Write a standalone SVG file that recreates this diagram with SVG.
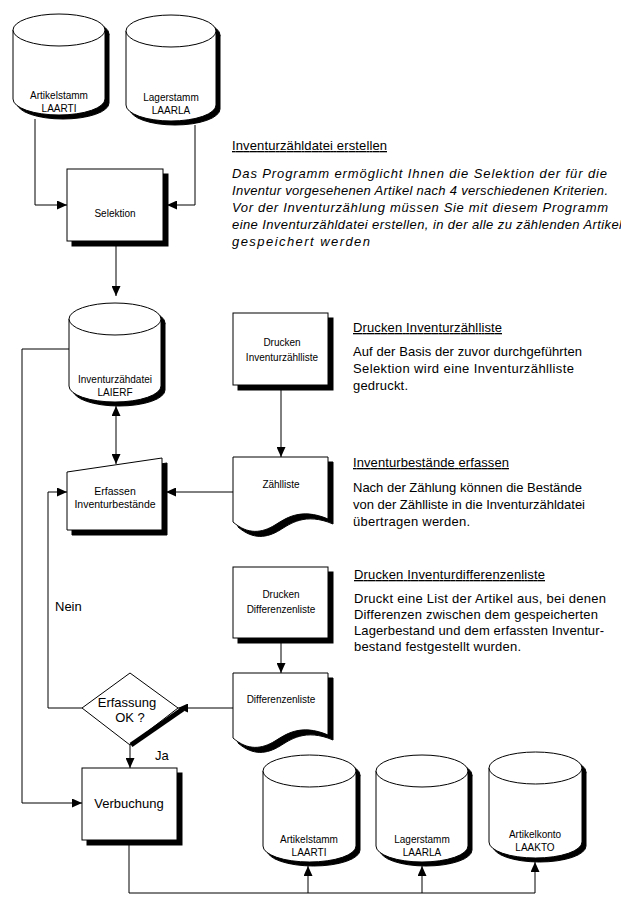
<svg xmlns="http://www.w3.org/2000/svg" width="621" height="904" viewBox="0 0 621 904">
<defs>
<style>
.b{fill:#fff;stroke:#000;stroke-width:1}
.s{fill:#000;stroke:#000;stroke-width:1}
.c{fill:none;stroke:#000;stroke-width:1}
.t{font-family:"Liberation Sans",Arial,sans-serif;font-size:10px;fill:#000;text-anchor:middle}
.m{font-family:"Liberation Sans",Arial,sans-serif;font-size:13px;fill:#000;text-anchor:middle}
.p{font-family:"Liberation Sans",Arial,sans-serif;font-size:13px;fill:#000}
.i{font-style:italic}
.u{text-decoration:underline}
</style>
<marker id="a" viewBox="0 0 10 9" refX="10" refY="4.5" markerWidth="10" markerHeight="9" markerUnits="userSpaceOnUse" orient="auto-start-reverse">
<path d="M0,0 L10,4.5 L0,9 Z" fill="#000"/>
</marker>
</defs>

<g id="artikelstamm-top">
<g transform="translate(4,4)" class="s"><path d="M13,30 V99 A46,16 0 0 0 105,99 V30 Z"/><ellipse cx="59" cy="30" rx="46" ry="16"/></g>
<path class="b" d="M13,30 V99 A46,16 0 0 0 105,99 V30"/><ellipse class="b" cx="59" cy="30" rx="46" ry="16"/>
<text class="t" x="59" y="99">Artikelstamm</text><text class="t" x="59" y="112">LAARTI</text>
</g>

<g id="lagerstamm-top">
<g transform="translate(4,4)" class="s"><path d="M126,31 V105 A45,16 0 0 0 216,105 V31 Z"/><ellipse cx="171" cy="31" rx="45" ry="16"/></g>
<path class="b" d="M126,31 V105 A45,16 0 0 0 216,105 V31"/><ellipse class="b" cx="171" cy="31" rx="45" ry="16"/>
<text class="t" x="171" y="101">Lagerstamm</text><text class="t" x="171" y="114">LAARLA</text>
</g>

<g id="selektion">
<rect class="s" x="72" y="174" width="96" height="72"/>
<rect class="b" x="67" y="169" width="96" height="72"/>
<text class="t" x="115" y="217">Selektion</text>
</g>

<g id="inventurzaehldatei">
<g transform="translate(4,4)" class="s"><path d="M69,319 V386 A46,16 0 0 0 161,386 V319 Z"/><ellipse cx="115" cy="319" rx="46" ry="16"/></g>
<path class="b" d="M69,319 V386 A46,16 0 0 0 161,386 V319"/><ellipse class="b" cx="115" cy="319" rx="46" ry="16"/>
<text class="t" x="115" y="383">Inventurzähdatei</text><text class="t" x="115" y="396">LAIERF</text>
</g>

<g id="drucken-inventurzaehlliste">
<rect class="s" x="238" y="318" width="95" height="72"/>
<rect class="b" x="233" y="313" width="95" height="72"/>
<text class="t" x="282" y="346">Drucken</text><text class="t" x="282" y="361">Inventurzählliste</text>
</g>

<g id="erfassen">
<path class="s" d="M72,477 L167,463 V535 H72 Z"/>
<path class="b" d="M67,472 L162,458 V530 H67 Z"/>
<text class="t" x="115" y="495" style="font-size:10.5px">Erfassen</text><text class="t" x="115" y="508" style="font-size:10.5px">Inventurbestände</text>
</g>

<g id="zaehlliste">
<path class="s" transform="translate(5,5)" d="M233,457 H328 V519 C300,507 285,519 275,525 C262,533 248,535 233,522 Z"/>
<path class="b" d="M233,457 H328 V519 C300,507 285,519 275,525 C262,533 248,535 233,522 Z"/>
<text class="t" x="281" y="488">Zählliste</text>
</g>

<g id="drucken-differenzenliste">
<rect class="s" x="238" y="572" width="95" height="71"/>
<rect class="b" x="233" y="567" width="95" height="71"/>
<text class="t" x="281" y="598">Drucken</text><text class="t" x="281" y="613">Differenzenliste</text>
</g>

<g id="differenzenliste">
<path class="s" transform="translate(5,5)" d="M233,673 H328 V735 C300,723 285,735 275,741 C262,749 248,751 233,738 Z"/>
<path class="b" d="M233,673 H328 V735 C300,723 285,735 275,741 C262,749 248,751 233,738 Z"/>
<text class="t" x="281" y="703">Differenzenliste</text>
</g>

<g id="erfassung-ok">
<path class="b" d="M82,708 L130,673 L178,708 L130,745 Z"/>
<text class="m" x="127" y="707">Erfassung</text><text class="m" x="130" y="722">OK ?</text>
</g>

<g id="verbuchung">
<rect class="s" x="87" y="773" width="95" height="72"/>
<rect class="b" x="82" y="768" width="95" height="72"/>
<text class="m" x="129" y="808">Verbuchung</text>
</g>

<g id="artikelstamm-bottom">
<g transform="translate(4,4)" class="s"><path d="M263,771 V846 A46.5,16 0 0 0 356,846 V771 Z"/><ellipse cx="309.5" cy="771" rx="46.5" ry="16"/></g>
<path class="b" d="M263,771 V846 A46.5,16 0 0 0 356,846 V771"/><ellipse class="b" cx="309.5" cy="771" rx="46.5" ry="16"/>
<text class="t" x="309" y="843">Artikelstamm</text><text class="t" x="309" y="856">LAARTI</text>
</g>

<g id="lagerstamm-bottom">
<g transform="translate(4,4)" class="s"><path d="M376,771 V846 A46,16 0 0 0 468,846 V771 Z"/><ellipse cx="422" cy="771" rx="46" ry="16"/></g>
<path class="b" d="M376,771 V846 A46,16 0 0 0 468,846 V771"/><ellipse class="b" cx="422" cy="771" rx="46" ry="16"/>
<text class="t" x="422" y="843">Lagerstamm</text><text class="t" x="422" y="856">LAARLA</text>
</g>

<g id="artikelkonto-bottom">
<g transform="translate(4,4)" class="s"><path d="M489,768 V842 A46.5,16 0 0 0 582,842 V768 Z"/><ellipse cx="535.5" cy="768" rx="46.5" ry="16"/></g>
<path class="b" d="M489,768 V842 A46.5,16 0 0 0 582,842 V768"/><ellipse class="b" cx="535.5" cy="768" rx="46.5" ry="16"/>
<text class="t" x="535" y="838">Artikelkonto</text><text class="t" x="535" y="851">LAAKTO</text>
</g>

<g id="connectors">
<path class="c" d="M35,119 V205 H67" marker-end="url(#a)"/>
<path class="c" d="M195,125 V205 H167" marker-end="url(#a)"/>
<path class="c" d="M116,246 V296" marker-end="url(#a)"/>
<path class="c" d="M116,406 V464" marker-start="url(#a)" marker-end="url(#a)"/>
<path class="c" d="M281,390 V457" marker-end="url(#a)"/>
<path class="c" d="M233,492 H166" marker-end="url(#a)"/>
<path class="c" d="M82,708 H48 V492 H67" marker-end="url(#a)"/>
<path class="c" d="M69,349 H22 V803 H82" marker-end="url(#a)"/>
<path class="c" d="M281,643 V673" marker-end="url(#a)"/>
<path class="c" d="M233,708 H178" marker-end="url(#a)"/>
<path d="M183,709 L131,745" stroke="#000" stroke-width="5" fill="none"/>
<path class="c" d="M130,745 V768" marker-end="url(#a)"/>
<path class="c" d="M129,845 V893 H535 V862" marker-end="url(#a)"/>
<path class="c" d="M308,893 V866" marker-end="url(#a)"/>
<path class="c" d="M422,893 V866" marker-end="url(#a)"/>
</g>

<g id="labels">
<text class="p" x="55" y="611">Nein</text>
<text class="p" x="155" y="760">Ja</text>
</g>

<g id="text-inventurzaehldatei">
<text class="p u" x="232" y="150" textLength="155" lengthAdjust="spacing">Inventurzähldatei erstellen</text>
<text class="p i" x="232" y="178" textLength="375" lengthAdjust="spacing">Das Programm ermöglicht Ihnen die Selektion der für die</text>
<text class="p i" x="232" y="195" textLength="376" lengthAdjust="spacing">Inventur vorgesehenen Artikel nach 4 verschiedenen Kriterien.</text>
<text class="p i" x="232" y="212" textLength="376" lengthAdjust="spacing">Vor der Inventurzählung müssen Sie mit diesem Programm</text>
<text class="p i" x="232" y="229" textLength="390" lengthAdjust="spacing">eine Inventurzähldatei erstellen, in der alle zu zählenden Artikel</text>
<text class="p i" x="232" y="246" textLength="138" lengthAdjust="spacing">gespeichert werden</text>
</g>

<g id="text-drucken-inventurzaehlliste">
<text class="p u" x="353" y="332" textLength="149" lengthAdjust="spacing">Drucken Inventurzählliste</text>
<text class="p" x="353" y="356" textLength="229" lengthAdjust="spacing">Auf der Basis der zuvor durchgeführten</text>
<text class="p" x="353" y="373" textLength="221" lengthAdjust="spacing">Selektion wird eine Inventurzählliste</text>
<text class="p" x="353" y="390" textLength="55" lengthAdjust="spacing">gedruckt.</text>
</g>

<g id="text-inventurbestaende">
<text class="p u" x="353" y="467" textLength="156" lengthAdjust="spacing">Inventurbestände erfassen</text>
<text class="p" x="353" y="492" textLength="229" lengthAdjust="spacing">Nach der Zählung können die Bestände</text>
<text class="p" x="353" y="509" textLength="232" lengthAdjust="spacing">von der Zählliste in die Inventurzähldatei</text>
<text class="p" x="353" y="526" textLength="117" lengthAdjust="spacing">übertragen werden.</text>
</g>

<g id="text-differenzenliste">
<text class="p u" x="354" y="579" textLength="191" lengthAdjust="spacing">Drucken Inventurdifferenzenliste</text>
<text class="p" x="354" y="603" textLength="252" lengthAdjust="spacing">Druckt eine List der Artikel aus, bei denen</text>
<text class="p" x="354" y="619" textLength="244" lengthAdjust="spacing">Differenzen zwischen dem gespeicherten</text>
<text class="p" x="354" y="635" textLength="250" lengthAdjust="spacing">Lagerbestand und dem erfassten Inventur-</text>
<text class="p" x="354" y="651" textLength="167" lengthAdjust="spacing">bestand festgestellt wurden.</text>
</g>
</svg>
